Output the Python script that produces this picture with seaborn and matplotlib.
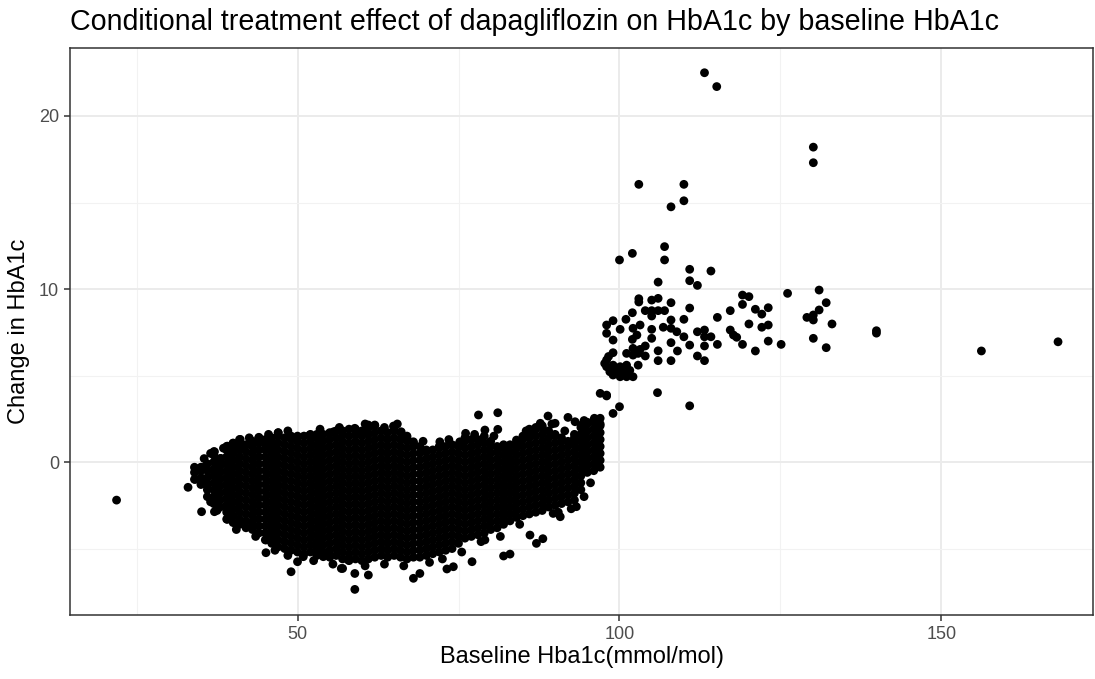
import numpy as np
import pandas as pd
import matplotlib
matplotlib.use("Agg")
import matplotlib.pyplot as plt
import seaborn as sns
from matplotlib.ticker import MultipleLocator

# ---------------- data ----------------
title = "Conditional treatment effect of dapagliflozin on HbA1c by baseline HbA1c"
x_label = "Baseline Hba1c(mmol/mol)"
y_label = "Change in HbA1c"
x_ticks = [50, 100, 150]
y_ticks = [0, 10, 20]

# dense cloud (baseline 34-97): change values read column by column
cloud = {
    34: [-1.0, -0.6, -0.3],
    35: [-1.3, -0.9, -0.5, -0.3],
    36: [-2.0, -1.6, -1.3, -0.9, -0.5, -0.1],
    37: [-2.4, -2.0, -1.6, -1.2, -0.8, -0.4, 0.0, 0.4, 0.6],
    38: [-2.6, -2.2, -1.8, -1.4, -1.0, -0.6, -0.2, 0.2],
    39: [-3.3, -2.9, -2.5, -2.1, -1.7, -1.3, -0.9, -0.5, -0.1, 0.3, 0.7, 0.9],
    40: [-3.5, -3.1, -2.7, -2.3, -1.9, -1.5, -1.1, -0.7, -0.3, 0.1, 0.5, 0.9, 1.1],
    41: [-3.6, -3.3, -2.9, -2.5, -2.1, -1.7, -1.3, -0.9, -0.5, -0.1, 0.3, 0.7, 1.0, 1.3],
    42: [-3.8, -3.4, -3.0, -2.6, -2.2, -1.8, -1.4, -1.0, -0.6, -0.2, 0.2, 0.6, 1.0],
    43: [-3.9, -3.5, -3.1, -2.7, -2.3, -1.9, -1.5, -1.1, -0.7, -0.3, 0.1, 0.5, 0.9, 1.2],
    44: [-4.1, -3.7, -3.3, -2.9, -2.5, -2.1, -1.7, -1.3, -0.9, -0.5, -0.1, 0.3, 0.7, 1.1, 1.4],
    45: [-4.5, -4.1, -3.7, -3.3, -2.9, -2.5, -2.1, -1.7, -1.3, -0.9, -0.5, -0.1, 0.3, 0.7, 1.0, 1.3],
    46: [-4.7, -4.3, -3.9, -3.5, -3.1, -2.7, -2.3, -1.9, -1.5, -1.1, -0.7, -0.3, 0.1, 0.5, 0.9, 1.2, 1.4],
    47: [-4.9, -4.5, -4.1, -3.7, -3.3, -2.9, -2.5, -2.1, -1.7, -1.3, -0.9, -0.5, -0.1, 0.3, 0.7, 1.1, 1.5, 1.7],
    48: [-5.0, -4.6, -4.2, -3.8, -3.4, -3.0, -2.6, -2.2, -1.8, -1.4, -1.0, -0.6, -0.2, 0.2, 0.6, 1.0, 1.4],
    49: [-5.1, -4.7, -4.3, -3.9, -3.5, -3.1, -2.7, -2.3, -1.9, -1.5, -1.1, -0.7, -0.3, 0.1, 0.5, 0.9, 1.3, 1.5],
    50: [-5.2, -4.8, -4.4, -4.0, -3.6, -3.2, -2.8, -2.4, -2.0, -1.6, -1.2, -0.8, -0.4, 0.0, 0.4, 0.8, 1.2, 1.5],
    51: [-5.3, -4.9, -4.5, -4.1, -3.7, -3.3, -2.9, -2.5, -2.1, -1.7, -1.3, -0.9, -0.5, -0.1, 0.3, 0.7, 1.1, 1.5],
    52: [-5.2, -4.8, -4.4, -4.0, -3.6, -3.2, -2.8, -2.4, -2.0, -1.6, -1.2, -0.8, -0.4, 0.0, 0.4, 0.8, 1.2, 1.6],
    53: [-5.4, -5.0, -4.6, -4.2, -3.8, -3.4, -3.0, -2.6, -2.2, -1.8, -1.4, -1.0, -0.6, -0.2, 0.2, 0.6, 1.0, 1.4, 1.6],
    54: [-5.2, -4.8, -4.4, -4.0, -3.6, -3.2, -2.8, -2.4, -2.0, -1.6, -1.2, -0.8, -0.4, 0.0, 0.4, 0.8, 1.2, 1.6],
    55: [-5.5, -5.1, -4.7, -4.3, -3.9, -3.5, -3.1, -2.7, -2.3, -1.9, -1.5, -1.1, -0.7, -0.3, 0.1, 0.5, 0.9, 1.3, 1.7],
    56: [-5.4, -5.0, -4.6, -4.2, -3.8, -3.4, -3.0, -2.6, -2.2, -1.8, -1.4, -1.0, -0.6, -0.2, 0.2, 0.6, 1.0, 1.4, 1.8],
    57: [-5.6, -5.2, -4.8, -4.4, -4.0, -3.6, -3.2, -2.8, -2.4, -2.0, -1.6, -1.2, -0.8, -0.4, 0.0, 0.4, 0.8, 1.2, 1.6, 1.8],
    58: [-5.7, -5.3, -4.9, -4.5, -4.1, -3.7, -3.3, -2.9, -2.5, -2.1, -1.7, -1.3, -0.9, -0.5, -0.1, 0.3, 0.7, 1.1, 1.5, 1.9],
    59: [-5.6, -5.2, -4.8, -4.4, -4.0, -3.6, -3.2, -2.8, -2.4, -2.0, -1.6, -1.2, -0.8, -0.4, 0.0, 0.4, 0.8, 1.2, 1.6, 1.9],
    60: [-5.7, -5.3, -4.9, -4.5, -4.1, -3.7, -3.3, -2.9, -2.5, -2.1, -1.7, -1.3, -0.9, -0.5, -0.1, 0.3, 0.7, 1.1, 1.5, 1.8],
    61: [-5.6, -5.2, -4.8, -4.4, -4.0, -3.6, -3.2, -2.8, -2.4, -2.0, -1.6, -1.2, -0.8, -0.4, 0.0, 0.4, 0.8, 1.2, 1.6, 2.0],
    62: [-5.5, -5.1, -4.7, -4.3, -3.9, -3.5, -3.1, -2.7, -2.3, -1.9, -1.5, -1.1, -0.7, -0.3, 0.1, 0.5, 0.9, 1.3, 1.7, 2.1],
    63: [-5.4, -5.0, -4.6, -4.2, -3.8, -3.4, -3.0, -2.6, -2.2, -1.8, -1.4, -1.0, -0.6, -0.2, 0.2, 0.6, 1.0, 1.4, 1.8],
    64: [-5.5, -5.1, -4.7, -4.3, -3.9, -3.5, -3.1, -2.7, -2.3, -1.9, -1.5, -1.1, -0.7, -0.3, 0.1, 0.5, 0.9, 1.3, 1.7],
    65: [-5.4, -5.0, -4.6, -4.2, -3.8, -3.4, -3.0, -2.6, -2.2, -1.8, -1.4, -1.0, -0.6, -0.2, 0.2, 0.6, 1.0, 1.4, 1.8, 2.0],
    66: [-5.5, -5.1, -4.7, -4.3, -3.9, -3.5, -3.1, -2.7, -2.3, -1.9, -1.5, -1.1, -0.7, -0.3, 0.1, 0.5, 0.9, 1.3, 1.7],
    67: [-5.6, -5.2, -4.8, -4.4, -4.0, -3.6, -3.2, -2.8, -2.4, -2.0, -1.6, -1.2, -0.8, -0.4, 0.0, 0.4, 0.8, 1.2, 1.4],
    68: [-5.5, -5.1, -4.7, -4.3, -3.9, -3.5, -3.1, -2.7, -2.3, -1.9, -1.5, -1.1, -0.7, -0.3, 0.1, 0.5, 0.9, 1.1],
    69: [-5.5, -5.1, -4.7, -4.3, -3.9, -3.5, -3.1, -2.7, -2.3, -1.9, -1.5, -1.1, -0.7, -0.3, 0.1, 0.5, 0.9],
    70: [-5.4, -5.0, -4.6, -4.2, -3.8, -3.4, -3.0, -2.6, -2.2, -1.8, -1.4, -1.0, -0.6, -0.2, 0.2, 0.6, 0.7],
    71: [-5.3, -4.9, -4.5, -4.1, -3.7, -3.3, -2.9, -2.5, -2.1, -1.7, -1.3, -0.9, -0.5, -0.1, 0.3, 0.7],
    72: [-5.2, -4.8, -4.4, -4.0, -3.6, -3.2, -2.8, -2.4, -2.0, -1.6, -1.2, -0.8, -0.4, 0.0, 0.4, 0.8, 0.9],
    73: [-5.1, -4.7, -4.3, -3.9, -3.5, -3.1, -2.7, -2.3, -1.9, -1.5, -1.1, -0.7, -0.3, 0.1, 0.5, 0.9],
    74: [-5.0, -4.6, -4.2, -3.8, -3.4, -3.0, -2.6, -2.2, -1.8, -1.4, -1.0, -0.6, -0.2, 0.2, 0.6, 1.0],
    75: [-4.7, -4.3, -3.9, -3.5, -3.1, -2.7, -2.3, -1.9, -1.5, -1.1, -0.7, -0.3, 0.1, 0.5, 0.9, 1.0],
    76: [-4.4, -4.0, -3.6, -3.2, -2.8, -2.4, -2.0, -1.6, -1.2, -0.8, -0.4, 0.0, 0.4, 0.8, 1.2, 1.4],
    77: [-4.3, -3.9, -3.5, -3.1, -2.7, -2.3, -1.9, -1.5, -1.1, -0.7, -0.3, 0.1, 0.5, 0.9, 1.3],
    78: [-4.2, -3.8, -3.4, -3.0, -2.6, -2.2, -1.8, -1.4, -1.0, -0.6, -0.2, 0.2, 0.6, 1.0, 1.3],
    79: [-4.1, -3.7, -3.3, -2.9, -2.5, -2.1, -1.7, -1.3, -0.9, -0.5, -0.1, 0.3, 0.7, 1.1, 1.5],
    80: [-3.9, -3.5, -3.1, -2.7, -2.3, -1.9, -1.5, -1.1, -0.7, -0.3, 0.1, 0.5, 0.9, 1.2],
    81: [-3.8, -3.4, -3.0, -2.6, -2.2, -1.8, -1.4, -1.0, -0.6, -0.2, 0.2, 0.6, 0.9],
    82: [-3.6, -3.2, -2.8, -2.4, -2.0, -1.6, -1.2, -0.8, -0.4, 0.0, 0.4, 0.8, 1.0],
    83: [-3.4, -3.0, -2.6, -2.2, -1.8, -1.4, -1.0, -0.6, -0.2, 0.2, 0.6, 1.0],
    84: [-3.2, -2.8, -2.4, -2.0, -1.6, -1.2, -0.8, -0.4, 0.0, 0.4, 0.8, 1.1],
    85: [-3.1, -2.7, -2.3, -1.9, -1.5, -1.1, -0.7, -0.3, 0.1, 0.5, 0.9, 1.3, 1.5],
    86: [-3.0, -2.6, -2.2, -1.8, -1.4, -1.0, -0.6, -0.2, 0.2, 0.6, 1.0, 1.4, 1.8, 1.9],
    87: [-2.9, -2.5, -2.1, -1.7, -1.3, -0.9, -0.5, -0.1, 0.3, 0.7, 1.1, 1.5, 1.9, 2.0],
    88: [-2.8, -2.4, -2.0, -1.6, -1.2, -0.8, -0.4, 0.0, 0.4, 0.8, 1.2, 1.6, 2.0, 2.1],
    89: [-2.6, -2.2, -1.8, -1.4, -1.0, -0.6, -0.2, 0.2, 0.6, 1.0, 1.4, 1.8],
    90: [-2.5, -2.1, -1.7, -1.3, -0.9, -0.5, -0.1, 0.3, 0.7, 1.1, 1.5, 1.6],
    91: [-2.4, -2.0, -1.6, -1.2, -0.8, -0.4, 0.0, 0.4, 0.8, 1.2, 1.4],
    92: [-2.3, -1.9, -1.5, -1.1, -0.7, -0.3, 0.1, 0.5, 0.9, 1.2],
    93: [-2.2, -1.8, -1.4, -1.0, -0.6, -0.2, 0.2, 0.6, 1.0, 1.4, 1.6],
    94: [-1.6, -1.2, -0.8, -0.4, 0.0, 0.4, 0.8, 1.2, 1.6, 2.0],
    95: [-0.6, -0.2, 0.2, 0.6, 1.0, 1.4, 1.8, 2.2, 2.3],
    96: [-0.5, -0.1, 0.3, 0.7, 1.1, 1.5, 1.9, 2.3, 2.4],
    97: [-0.3, 0.1, 0.5, 0.9, 1.3, 1.7, 2.1, 2.2],
}

# scattered points around the edge of the cloud
edge_x = [21.9, 33.0, 34.1, 35.1, 34.1, 35.1, 35.9, 37.1, 38.1, 37.1, 35.1, 37.1, 37.1,
          39.1, 39.1, 39.1, 40.0, 41.1, 41.8, 44.0, 47.0, 45.1, 45.1, 42.9, 49.0, 50.0,
          50.9, 54.0, 55.0, 57.0, 58.9, 58.9, 57.9, 51.9, 55.6, 58.9, 61.0, 62.0, 64.9,
          66.1, 67.0, 68.0, 72.1, 75.2, 76.1, 78.1, 81.1, 81.1, 79.1, 84.0, 86.1, 87.7,
          88.9, 90.0, 92.0, 93.1, 94.1, 96.2, 97.0, 97.0, 98.0, 99.0, 56.8, 61.0, 68.0,
          69.0, 73.2, 74.2, 77.1, 82.0, 83.0, 86.1, 87.1, 88.1, 79.1, 89.7, 90.8, 93.3,
          100.0, 96.1, 98.0,
          42.5, 45.5, 48.5, 53.5, 56.5, 60.5, 63.5, 65.5, 69.5, 73.5, 77.5, 80.5, 85.5,
          89.5, 91.5, 94.5,
          40.5, 43.5, 46.5, 48.5, 52.5, 55.5, 60.5, 63.5, 66.5, 70.5, 72.5, 75.5, 78.5,
          81.5, 84.5, 90.5, 92.5, 94.5, 95.5,
          36.5, 35.5, 38.5, 37.5, 36.5]
edge_y = [-2.2, -1.46, -0.37, -0.31, -1.0, -1.0, -1.33, 0.6, 0.21, -0.62, -2.87, -2.39, -2.87,
          -2.68, -3.31, 0.92, 1.08, 1.31, 0.92, 1.43, 1.69, -4.5, -5.24, -3.74, -6.34, -5.76,
          -5.47, -5.47, -5.38, -6.15, -6.44, -7.36, -5.66, 1.56, 1.75, 1.95, 2.14, 2.14, 2.08,
          1.75, 1.5, 1.17, 1.17, 1.17, 1.66, 2.72, 2.85, 1.89, 1.85, 1.27, 1.66, 2.24,
          2.66, 2.24, 2.58, 2.33, 2.14, 2.43, 2.53, 3.97, 3.87, 2.81, -6.15, -6.53, -6.72,
          -6.44, -6.18, -6.05, -5.76, -5.43, -5.32, -4.22, -4.7, -4.43, -4.5, -2.97, -3.16, -2.58,
          3.2, 2.53, 3.82,
          1.4, 1.6, 1.8, 1.9, 2.0, 2.2, 2.0, 2.2, 1.2, 1.3, 1.6, 1.5, 1.8,
          2.2, 1.8, 2.4,
          -3.9, -4.3, -5.1, -5.4, -5.7, -5.9, -6.0, -5.9, -6.0, -5.8, -5.6, -5.2, -4.6,
          -4.3, -3.6, -2.9, -2.7, -2.0, -1.2,
          -2.3, 0.2, 0.8, -2.8, 0.5]

# upper group (baseline >= ~97)
high_x = [113.2, 115.1, 130.1, 130.1, 103.0, 110.0, 110.0, 108.0, 107.0, 100.0, 102.0, 107.0,
          110.9, 114.2, 106.0, 110.9, 112.1, 103.0, 103.0, 105.0, 106.0, 108.0, 104.0, 105.0,
          106.0, 107.0, 102.0, 105.0, 110.9, 101.0, 99.0, 98.0, 98.0, 100.1, 102.1, 103.2,
          102.7, 105.0, 105.0, 106.8, 108.0, 108.0, 108.9, 110.0, 110.0, 99.0, 99.0, 102.0,
          104.0, 104.0, 101.1, 102.1, 102.1, 102.9, 103.2, 106.0, 106.0, 108.0, 108.0, 109.0,
          110.9, 112.1, 113.2, 113.2, 114.2, 113.2, 112.1, 113.2, 115.2, 115.2, 117.2, 117.2,
          117.7, 118.2, 119.1, 120.1, 119.1, 121.1, 122.1, 123.1, 120.1, 122.1, 123.1, 119.1,
          121.1, 123.1, 125.1, 126.1, 129.1, 130.1, 130.1, 131.0, 131.0, 132.1, 133.0, 130.1,
          132.1, 139.9, 139.9, 156.2, 168.1, 105.9, 110.9, 98.0, 98.0, 98.5, 99.0, 100.1,
          101.1, 102.1, 100.1, 101.1, 99.0, 102.9, 97.7, 98.3, 100.5, 101.6, 99.5]
high_y = [22.5, 21.7, 18.2, 17.3, 16.05, 16.05, 15.1, 14.75, 12.45, 11.68, 12.06, 11.68,
          11.14, 11.04, 10.4, 10.48, 10.21, 9.44, 9.25, 9.36, 9.46, 9.21, 8.75, 8.75,
          8.75, 8.75, 8.63, 8.44, 8.9, 8.25, 8.17, 7.92, 7.44, 7.67, 7.73, 7.92,
          7.34, 7.67, 7.15, 7.79, 8.21, 7.73, 7.53, 7.24, 8.25, 7.05, 6.32, 7.09,
          6.71, 6.13, 6.28, 6.57, 6.18, 6.28, 6.51, 6.43, 5.86, 6.9, 5.86, 6.42,
          6.76, 7.53, 7.63, 7.24, 7.24, 6.71, 6.13, 5.86, 8.36, 6.8, 8.75, 7.63,
          7.34, 7.21, 9.65, 9.56, 9.11, 8.83, 8.55, 8.92, 7.98, 7.79, 7.92, 6.8,
          6.42, 6.99, 6.8, 9.75, 8.36, 8.5, 8.21, 8.79, 9.94, 9.21, 7.98, 7.15,
          6.61, 7.59, 7.45, 6.42, 6.95, 4.01, 3.25, 5.9, 5.51, 5.22, 5.03, 4.93,
          4.93, 4.93, 5.51, 5.6, 5.6, 5.6, 5.7, 6.1, 5.2, 5.3, 5.3]

# ---------------- assemble ----------------
cloud_x = [x for x, ys in cloud.items() for _ in ys]
cloud_y = [y for ys in cloud.values() for y in ys]
df = pd.DataFrame({
    "baseline": cloud_x + edge_x + high_x,
    "change": cloud_y + edge_y + high_y,
})

# ---------------- style ----------------
sns.set_theme(style="white")
plt.rcParams["font.family"] = ["Liberation Sans", "DejaVu Sans"]

fig = plt.figure(figsize=(10.95, 6.79), dpi=100)
ax = fig.add_axes([70 / 1095, 64 / 679, 1023 / 1095, 567 / 679])
ax.set_facecolor("white")

sns.scatterplot(data=df, x="baseline", y="change", ax=ax, color="black",
                s=40, linewidth=0, edgecolor="none", zorder=3, legend=False)

ax.set_xlim(14.67, 173.53)
ax.set_ylim(-8.84, 23.93)
ax.set_xticks(x_ticks)
ax.set_yticks(y_ticks)
ax.xaxis.set_minor_locator(MultipleLocator(25))
ax.yaxis.set_minor_locator(MultipleLocator(5))

ax.grid(True, which="major", color="#EBEBEB", linewidth=1.4, zorder=0)
ax.grid(True, which="minor", color="#F2F2F2", linewidth=0.8, zorder=0)
ax.set_axisbelow(True)

for sp in ax.spines.values():
    sp.set_visible(True)
    sp.set_color("#333333")
    sp.set_linewidth(1.1)

ax.tick_params(axis="both", which="major", direction="out", length=4, width=1.1,
               color="#333333", labelcolor="#4D4D4D", labelsize=13, pad=4,
               bottom=True, left=True)
ax.tick_params(axis="both", which="minor", length=0)

ax.set_xlabel(x_label, fontsize=17, color="black", labelpad=2)
ax.set_ylabel(y_label, fontsize=17, color="black", labelpad=6)
ax.set_title(title, loc="left", fontsize=20.6, color="black", pad=13)

fig.savefig("out.png", dpi=100)
